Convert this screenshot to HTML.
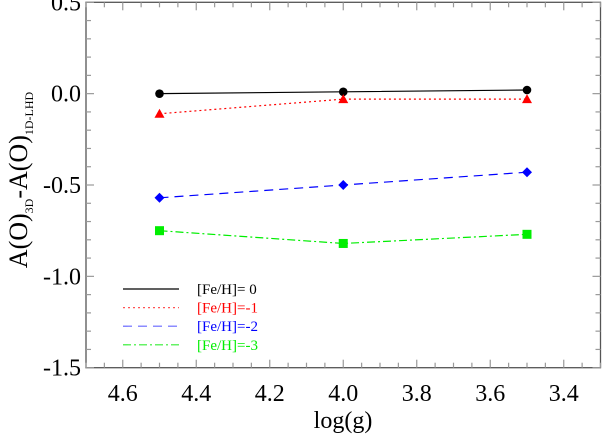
<!DOCTYPE html>
<html><head><meta charset="utf-8"><style>
body{margin:0;background:#fff;}
svg{display:block;}
svg text{font-family:"Liberation Serif","DejaVu Serif",serif;}
</style></head><body>
<svg id="c" width="602" height="435"></svg>
<script>
const xVals=[4.5,4.0,3.5];
const s0=[0.0,0.01,0.02];
const s1=[-0.11,-0.03,-0.03];
const s2=[-0.57,-0.50,-0.43];
const s3=[-0.75,-0.82,-0.77];
const xTicks=[4.6,4.4,4.2,4.0,3.8,3.6,3.4];
const yTicks=[0.5,0.0,-0.5,-1.0,-1.5];
const legendLabels=["[Fe/H]= 0","[Fe/H]=-1","[Fe/H]=-2","[Fe/H]=-3"];
const L=86,R=600.5,T=2.3,B=367.7;
const X=v=>L+(4.7-v)/(1.4)*(R-L);
const Y=v=>B-(v+1.5)/2*(B-T);
const svg=document.getElementById('c');
const NS='http://www.w3.org/2000/svg';
const FF='"Liberation Serif", serif';
function mk(t,a,p){const e=document.createElementNS(NS,t);for(const k in a)e.setAttribute(k,a[k]);if(t==='text')e.setAttribute('font-family',FF);(p||svg).appendChild(e);return e;}
const frame=mk('rect',{x:L,y:T,width:R-L,height:B-T,fill:'none',stroke:'#555','stroke-width':1.3});


for(let v=4.7;v>=3.3-1e-9;v-=0.05){const x=X(v);const maj=Math.abs(v*5-Math.round(v*5))<1e-6;const len=maj?8:5;
mk('line',{x1:x,y1:B,x2:x,y2:B-len,stroke:'#999','stroke-width':1.2});mk('line',{x1:x,y1:T,x2:x,y2:T+len,stroke:'#999','stroke-width':1.2});}
for(let v=0.5;v>=-1.5-1e-9;v-=0.1){const y=Y(v);const maj=Math.abs(v*2-Math.round(v*2))<1e-6;const len=maj?8:5;
mk('line',{x1:L,y1:y,x2:L+len,y2:y,stroke:'#999','stroke-width':1.2});mk('line',{x1:R,y1:y,x2:R-len,y2:y,stroke:'#999','stroke-width':1.2});}
xTicks.forEach(v=>{const t=mk('text',{x:X(v),y:401,'text-anchor':'middle','font-size':24});t.textContent=v.toFixed(1);

});
yTicks.forEach(v=>{const t=mk('text',{x:81,y:Y(v)+8,'text-anchor':'end','font-size':24});t.textContent=v.toFixed(1);

});
const xt=mk('text',{x:343,y:428,'text-anchor':'middle','font-size':24});xt.textContent='log(g)';


const yt=mk('text',{transform:'translate(27,180) rotate(-90)','text-anchor':'middle','font-size':26});
yt.innerHTML='A(O)<tspan font-size="12" dy="6">3D</tspan><tspan dy="-6">-A(O)</tspan><tspan font-size="12" dy="6">1D-LHD</tspan>';


const series=[s0,s1,s2,s3];
const colors=['#000','#f00','#00f','#0e0'];
const dashes=['none','2,3','9,6','8,3,2,3'];
const lineColors=['#000','#f55','#66f','#3e3'];
series.forEach((s,i)=>{
 const p=mk('polyline',{points:s.map((v,j)=>X(xVals[j])+','+Y(v)).join(' '),fill:'none',stroke:colors[i],'stroke-width':1.2,'stroke-dasharray':dashes[i]});
 
 
 s.forEach((v,j)=>{const x=X(xVals[j]),y=Y(v);let m;
  if(i==0)m=mk('circle',{cx:x,cy:y,r:4.3,fill:colors[i]});
  else if(i==1)m=mk('polygon',{points:`${x},${y-5} ${x-5},${y+4} ${x+5},${y+4}`,fill:colors[i]});
  else if(i==2)m=mk('polygon',{points:`${x},${y-5} ${x+5},${y} ${x},${y+5} ${x-5},${y}`,fill:colors[i]});
  else m=mk('rect',{x:x-4.5,y:y-4.5,width:9,height:9,fill:colors[i]});
  
  });
 const ly=289+i*18.6;
 const ll=mk('line',{x1:123,y1:ly,x2:179,y2:ly,stroke:lineColors[i],'stroke-width':1.2,'stroke-dasharray':dashes[i]});
 
 
 const lt=mk('text',{x:197,y:ly+5,'font-size':15,fill:colors[i]});lt.textContent=legendLabels[i];
 
 
});
</script>
</body></html>
